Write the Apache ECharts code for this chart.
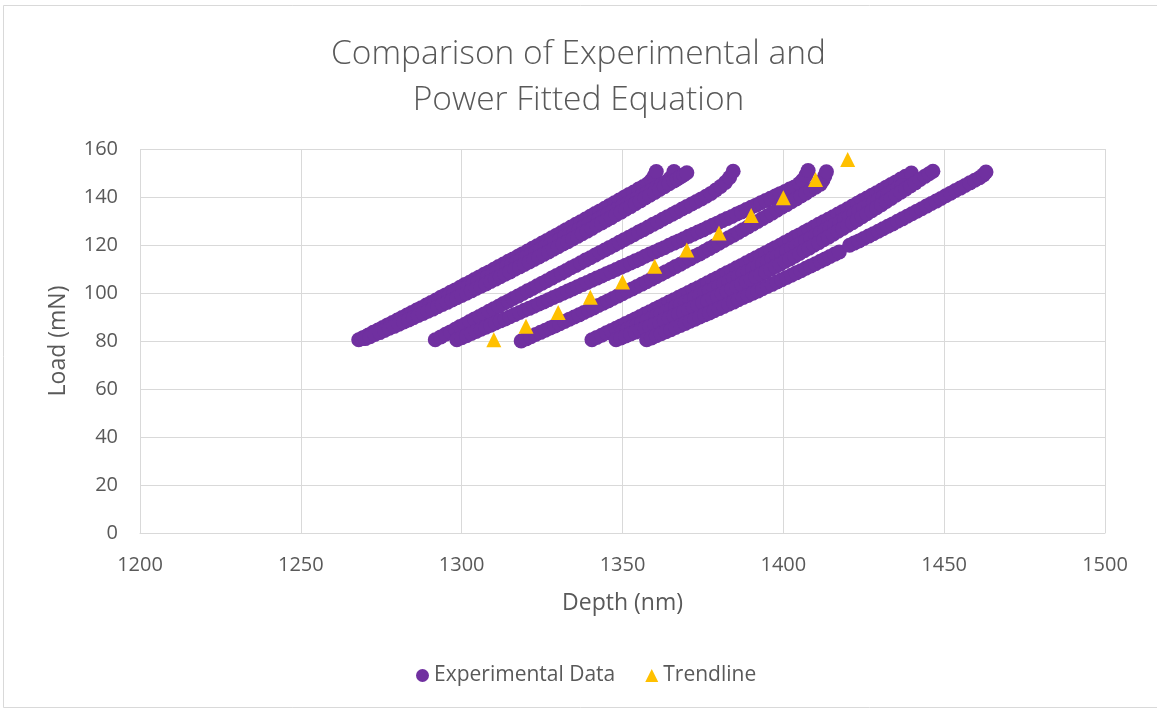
<!DOCTYPE html>
<html>
<head>
<meta charset="utf-8">
<script src="https://cdn.jsdelivr.net/npm/echarts@6/dist/echarts.min.js"></script>
<style>
  html, body { margin: 0; padding: 0; background: #ffffff; }
  #chart { width: 1157px; height: 711px; }
</style>
</head>
<body>
<div id="chart"></div>
<script>
// Text
const chartTitle = 'Comparison of Experimental and\nPower Fitted Equation';
const xAxisTitle = 'Depth (nm)';
const yAxisTitle = 'Load (mN)';
const seriesNames = ['Experimental Data', 'Trendline'];

// Axis ranges / ticks
const depthTicks = [1200, 1250, 1300, 1350, 1400, 1450, 1500];
const loadTicks = [0, 20, 40, 60, 80, 100, 120, 140, 160];

// Measured loading runs: [depth (nm), load (mN)]
const run1 = [[1268,80.5],[1269.5,81.5],[1271,82.5],[1272.5,83.6],[1274,84.6],[1275.5,85.6],[1277,86.7],[1278.5,87.7],[1280,88.7],[1281.5,89.8],[1283,90.8],[1284.5,91.9],[1286,92.9],[1287.5,93.9],[1289,95.0],[1290.5,96.0],[1292,97.1],[1293.5,98.2],[1295,99.2],[1296.5,100.3],[1298,101.3],[1299.5,102.4],[1301,103.5],[1302.5,104.5],[1304,105.6],[1305.5,106.7],[1307,107.8],[1308.5,108.8],[1310,109.9],[1311.5,111.0],[1313,112.1],[1314.5,113.2],[1316,114.2],[1317.5,115.3],[1319,116.4],[1320.5,117.5],[1322,118.6],[1323.5,119.7],[1325,120.8],[1326.5,121.9],[1328,123.0],[1329.5,124.1],[1331,125.2],[1332.5,126.4],[1334,127.5],[1335.5,128.6],[1337,129.7],[1338.5,130.8],[1340,132.0],[1341.5,133.1],[1343,134.2],[1344.5,135.3],[1346,136.5],[1347.5,137.6],[1349,138.7],[1350.5,139.9],[1352,141.0],[1353.5,142.1],[1355,143.3],[1356.5,144.4],[1358,145.6],[1359,147.0],[1359.8,148.6],[1360.5,150.6]];
const run2 = [[1269,81.0],[1270.5,82.0],[1272,82.9],[1273.5,83.9],[1275,84.9],[1276.5,85.8],[1278,86.8],[1279.5,87.8],[1281,88.8],[1282.5,89.7],[1284,90.7],[1285.5,91.7],[1287,92.7],[1288.5,93.7],[1290,94.7],[1291.5,95.7],[1293,96.7],[1294.5,97.7],[1296,98.7],[1297.5,99.7],[1299,100.7],[1300.5,101.7],[1302,102.7],[1303.5,103.7],[1305,104.7],[1306.5,105.7],[1308,106.8],[1309.5,107.8],[1311,108.8],[1312.5,109.8],[1314,110.9],[1315.5,111.9],[1317,112.9],[1318.5,114.0],[1320,115.0],[1321.5,116.0],[1323,117.1],[1324.5,118.1],[1326,119.2],[1327.5,120.2],[1329,121.3],[1330.5,122.3],[1332,123.4],[1333.5,124.4],[1335,125.5],[1336.5,126.6],[1338,127.6],[1339.5,128.7],[1341,129.8],[1342.5,130.8],[1344,131.9],[1345.5,133.0],[1347,134.1],[1348.5,135.2],[1350,136.3],[1351.5,137.3],[1353,138.4],[1354.5,139.5],[1356,140.6],[1357.5,141.7],[1359,142.8],[1360.5,143.9],[1362,145.0],[1363.5,146.2],[1364.8,147.8],[1366,150.6]];
const run3 = [[1270,81.0],[1271.5,81.8],[1273,82.7],[1274.5,83.5],[1276,84.4],[1277.5,85.3],[1279,86.1],[1280.5,87.0],[1282,87.9],[1283.5,88.8],[1285,89.7],[1286.5,90.6],[1288,91.5],[1289.5,92.4],[1291,93.3],[1292.5,94.3],[1294,95.2],[1295.5,96.1],[1297,97.1],[1298.5,98.0],[1300,99.0],[1301.5,99.9],[1303,100.9],[1304.5,101.9],[1306,102.8],[1307.5,103.8],[1309,104.8],[1310.5,105.8],[1312,106.8],[1313.5,107.8],[1315,108.8],[1316.5,109.9],[1318,110.9],[1319.5,111.9],[1321,112.9],[1322.5,114.0],[1324,115.0],[1325.5,116.1],[1327,117.1],[1328.5,118.2],[1330,119.3],[1331.5,120.4],[1333,121.4],[1334.5,122.5],[1336,123.6],[1337.5,124.7],[1339,125.8],[1340.5,126.9],[1342,128.1],[1343.5,129.2],[1345,130.3],[1346.5,131.4],[1348,132.6],[1349.5,133.7],[1351,134.9],[1352.5,136.0],[1354,137.2],[1355.5,138.4],[1357,139.6],[1358.5,140.7],[1360,141.9],[1361.5,143.1],[1363,144.3],[1364.5,145.5],[1366,146.7],[1367,147.5],[1368,148.4],[1369,149.2],[1370,150.1]];
const run4 = [[1291.8,80.5],[1293.5,81.7],[1295,82.8],[1296.5,83.8],[1298,84.9],[1299.5,86.0],[1301,87.0],[1302.5,88.1],[1304,89.2],[1305.5,90.2],[1307,91.3],[1308.5,92.4],[1310,93.4],[1311.5,94.5],[1313,95.6],[1314.5,96.6],[1316,97.7],[1317.5,98.7],[1319,99.8],[1320.5,100.9],[1322,101.9],[1323.5,103.0],[1325,104.1],[1326.5,105.1],[1328,106.2],[1329.5,107.3],[1331,108.3],[1332.5,109.4],[1334,110.5],[1335.5,111.5],[1337,112.6],[1338.5,113.7],[1340,114.7],[1341.5,115.8],[1343,116.9],[1344.5,117.9],[1346,119.0],[1347.5,120.0],[1349,121.1],[1350.5,122.2],[1352,123.2],[1353.5,124.3],[1355,125.4],[1356.5,126.4],[1358,127.5],[1359.5,128.6],[1361,129.6],[1362.5,130.7],[1364,131.8],[1365.5,132.8],[1367,133.9],[1368.5,135.0],[1370,136.0],[1371.5,137.1],[1373,138.1],[1374.5,139.2],[1376,140.3],[1377.5,141.5],[1379,142.9],[1380.5,144.4],[1382,146.1],[1383.3,148.1],[1384.4,150.7]];
const run5 = [[1298.5,80.5],[1300,81.4],[1301.5,82.2],[1303,83.1],[1304.5,84.0],[1306,84.9],[1307.5,85.7],[1309,86.6],[1310.5,87.5],[1312,88.4],[1313.5,89.2],[1315,90.1],[1316.5,91.0],[1318,91.9],[1319.5,92.8],[1321,93.6],[1322.5,94.5],[1324,95.4],[1325.5,96.3],[1327,97.2],[1328.5,98.1],[1330,99.0],[1331.5,99.9],[1333,100.8],[1334.5,101.7],[1336,102.6],[1337.5,103.5],[1339,104.4],[1340.5,105.3],[1342,106.2],[1343.5,107.1],[1345,108.0],[1346.5,108.9],[1348,109.8],[1349.5,110.7],[1351,111.6],[1352.5,112.5],[1354,113.4],[1355.5,114.3],[1357,115.3],[1358.5,116.2],[1360,117.1],[1361.5,118.0],[1363,118.9],[1364.5,119.9],[1366,120.8],[1367.5,121.7],[1369,122.6],[1370.5,123.6],[1372,124.5],[1373.5,125.4],[1375,126.3],[1376.5,127.3],[1378,128.2],[1379.5,129.1],[1381,130.1],[1382.5,131.0],[1384,131.9],[1385.5,132.9],[1387,133.8],[1388.5,134.8],[1390,135.7],[1391.5,136.6],[1393,137.6],[1394.5,138.5],[1396,139.5],[1397.5,140.4],[1399,141.4],[1400.5,142.3],[1402,143.3],[1403.5,144.2],[1405,145.6],[1406,147.0],[1407,149.0],[1407.7,151.0]];
const run6 = [[1318.5,80.0],[1320,80.9],[1321.5,81.8],[1323,82.7],[1324.5,83.6],[1326,84.5],[1327.5,85.4],[1329,86.3],[1330.5,87.2],[1332,88.1],[1333.5,89.1],[1335,90.0],[1336.5,90.9],[1338,91.9],[1339.5,92.8],[1341,93.8],[1342.5,94.8],[1344,95.7],[1345.5,96.7],[1347,97.7],[1348.5,98.7],[1350,99.7],[1351.5,100.7],[1353,101.7],[1354.5,102.7],[1356,103.7],[1357.5,104.7],[1359,105.8],[1360.5,106.8],[1362,107.8],[1363.5,108.9],[1365,109.9],[1366.5,111.0],[1368,112.0],[1369.5,113.1],[1371,114.2],[1372.5,115.3],[1374,116.3],[1375.5,117.4],[1377,118.5],[1378.5,119.6],[1380,120.7],[1381.5,121.9],[1383,123.0],[1384.5,124.1],[1386,125.2],[1387.5,126.4],[1389,127.5],[1390.5,128.7],[1392,129.8],[1393.5,131.0],[1395,132.1],[1396.5,133.3],[1398,134.5],[1399.5,135.7],[1401,136.8],[1402.5,138.0],[1404,139.2],[1405.5,140.4],[1407,141.6],[1408.5,142.9],[1410,144.1],[1411.5,145.3],[1412.3,147.0],[1412.9,148.8],[1413.4,150.5]];
const run7 = [[1340.5,80.5],[1342,81.5],[1343.5,82.4],[1345,83.4],[1346.5,84.4],[1348,85.3],[1349.5,86.3],[1351,87.3],[1352.5,88.2],[1354,89.2],[1355.5,90.2],[1357,91.2],[1358.5,92.2],[1360,93.2],[1361.5,94.2],[1363,95.2],[1364.5,96.2],[1366,97.2],[1367.5,98.2],[1369,99.2],[1370.5,100.2],[1372,101.2],[1373.5,102.2],[1375,103.2],[1376.5,104.3],[1378,105.3],[1379.5,106.3],[1381,107.4],[1382.5,108.4],[1384,109.4],[1385.5,110.5],[1387,111.5],[1388.5,112.6],[1390,113.6],[1391.5,114.7],[1393,115.7],[1394.5,116.8],[1396,117.8],[1397.5,118.9],[1399,119.9],[1400.5,121.0],[1402,122.1],[1403.5,123.2],[1405,124.2],[1406.5,125.3],[1408,126.4],[1409.5,127.5],[1411,128.6],[1412.5,129.7],[1414,130.7],[1415.5,131.8],[1417,132.9],[1418.5,134.0],[1420,135.1],[1421.5,136.2],[1423,137.4],[1424.5,138.5],[1426,139.6],[1427.5,140.7],[1429,141.8],[1430.5,142.9],[1432,144.1],[1433.5,145.2],[1435,146.3],[1436.5,147.5],[1438,148.6],[1439.8,150.0]];
const run8 = [[1350,84.0],[1351.5,84.9],[1353,85.8],[1354.5,86.7],[1356,87.6],[1357.5,88.5],[1359,89.5],[1360.5,90.4],[1362,91.3],[1363.5,92.3],[1365,93.2],[1366.5,94.2],[1368,95.1],[1369.5,96.1],[1371,97.0],[1372.5,98.0],[1374,99.0],[1375.5,100.0],[1377,101.0],[1378.5,101.9],[1380,102.9],[1381.5,103.9],[1383,104.9],[1384.5,106.0],[1386,107.0],[1387.5,108.0],[1389,109.0],[1390.5,110.1],[1392,111.1],[1393.5,112.2],[1395,113.2],[1396.5,114.3],[1398,115.3],[1399.5,116.4],[1401,117.5],[1402.5,118.5],[1404,119.6],[1405.5,120.7],[1407,121.8],[1408.5,122.9],[1410,124.0],[1411.5,125.1],[1413,126.2],[1414.5,127.4],[1416,128.5],[1417.5,129.6],[1419,130.8],[1420.5,131.9],[1422,133.0],[1423.5,134.2],[1425,135.4],[1426.5,136.5],[1428,137.7],[1429.5,138.9],[1431,140.0],[1432.5,141.2],[1434,142.4],[1435.5,143.6],[1437,144.8]];
const run9 = [[1348,80.5],[1349.5,81.3],[1351,82.1],[1352.5,82.9],[1354,83.7],[1355.5,84.5],[1357,85.3],[1358.5,86.1],[1360,87.0],[1361.5,87.8],[1363,88.7],[1364.5,89.6],[1366,90.4],[1367.5,91.3],[1369,92.2],[1370.5,93.1],[1372,94.0],[1373.5,94.9],[1375,95.9],[1376.5,96.8],[1378,97.8],[1379.5,98.7],[1381,99.7],[1382.5,100.7],[1384,101.7],[1385.5,102.7],[1387,103.7],[1388.5,104.7],[1390,105.7],[1391.5,106.7],[1393,107.8],[1394.5,108.8],[1396,109.9],[1397.5,111.0],[1399,112.0],[1400.5,113.1],[1402,114.2],[1403.5,115.3],[1405,116.5],[1406.5,117.6],[1408,118.7],[1409.5,119.9],[1411,121.0],[1412.5,122.2],[1414,123.3],[1415.5,124.5],[1417,125.7],[1418.5,126.9],[1420,128.1],[1421.5,129.3],[1423,130.5],[1424.5,131.8],[1426,133.0],[1427.5,134.3],[1429,135.5],[1430.5,136.8],[1432,138.1],[1433.5,139.4],[1435,140.7],[1436.5,142.0],[1438,143.3],[1439.5,144.6],[1441,145.9],[1442.5,147.3],[1444,148.6],[1445.3,149.7],[1446.5,150.7]];
const run10 = [[1357.5,80.5],[1359,81.3],[1360.5,82.2],[1362,83.0],[1363.5,83.9],[1365,84.7],[1366.5,85.6],[1368,86.5],[1369.5,87.3],[1371,88.2],[1372.5,89.1],[1374,90.0],[1375.5,90.9],[1377,91.7],[1378.5,92.6],[1380,93.5],[1381.5,94.4],[1383,95.3],[1384.5,96.2],[1386,97.2],[1387.5,98.1],[1389,99.0],[1390.5,99.9],[1392,100.8],[1393.5,101.8],[1395,102.7],[1396.5,103.6],[1398,104.6],[1399.5,105.5],[1401,106.5],[1402.5,107.4],[1404,108.4],[1405.5,109.3],[1407,110.3],[1408.5,111.3],[1410,112.2],[1411.5,113.2],[1413,114.2],[1414.5,115.2],[1416,116.2],[1417.4,117.1],[1420.6,119.9],[1422,120.8],[1423.5,121.7],[1425,122.7],[1426.5,123.7],[1428,124.7],[1429.5,125.7],[1431,126.8],[1432.5,127.8],[1434,128.8],[1435.5,129.9],[1437,130.9],[1438.5,132.0],[1440,133.0],[1441.5,134.1],[1443,135.1],[1444.5,136.2],[1446,137.3],[1447.5,138.3],[1449,139.4],[1450.5,140.5],[1452,141.6],[1453.5,142.7],[1455,143.7],[1456.5,144.8],[1458,145.9],[1459.5,147.0],[1461,148.0],[1462.2,149.2],[1463,150.4]];

// Power-law fit evaluated at fixed depths
const trendDepth = [1310, 1320, 1330, 1340, 1350, 1360, 1370, 1380, 1390, 1400, 1410, 1420];
const trendLoad = [80.5, 86.1, 91.9, 98.2, 104.6, 111.1, 117.9, 125.0, 132.3, 139.7, 147.3, 155.6];

const runs = [run1, run2, run3, run4, run5, run6, run7, run8, run9, run10];
const experimental = [].concat(...runs);
const trend = trendDepth.map((d, i) => [d, trendLoad[i]]);

const FONT = '"Open Sans", "Noto Sans", sans-serif';
const TEXT = '#595959';
const GRID = '#d9d9d9';

const chart = echarts.init(document.getElementById('chart'), null, { renderer: 'canvas' });

chart.setOption({
  backgroundColor: '#ffffff',
  animation: false,
  graphic: [{
    type: 'rect',
    shape: { x: 3.5, y: 5.5, width: 1200, height: 702 },
    style: { fill: 'none', stroke: GRID, lineWidth: 1 },
    silent: true,
    z: -1
  }],
  title: {
    text: chartTitle,
    left: 'center',
    top: 26,
    textStyle: {
      fontFamily: FONT,
      fontSize: 33.5,
      fontWeight: 300,
      color: TEXT,
      lineHeight: 46
    }
  },
  legend: {
    bottom: 20,
    left: 411,
    itemWidth: 13,
    itemHeight: 13,
    itemGap: 30,
    textStyle: { fontFamily: FONT, fontSize: 21, color: TEXT },
    data: [
      { name: seriesNames[0], icon: 'circle' },
      { name: seriesNames[1], icon: 'triangle' }
    ]
  },
  grid: { left: 140, right: 52, top: 149, bottom: 178, containLabel: false },
  xAxis: {
    type: 'value',
    min: depthTicks[0],
    max: depthTicks[depthTicks.length - 1],
    interval: depthTicks[1] - depthTicks[0],
    name: xAxisTitle,
    nameLocation: 'middle',
    nameGap: 59,
    nameTextStyle: { fontFamily: FONT, fontSize: 23, color: TEXT },
    axisLine: { show: true, lineStyle: { color: GRID, width: 1 } },
    axisTick: { show: false },
    axisLabel: { margin: 22, fontFamily: FONT, fontSize: 20, color: TEXT, formatter: v => String(v) },
    splitLine: { show: true, lineStyle: { color: GRID, width: 1 } }
  },
  yAxis: {
    type: 'value',
    min: loadTicks[0],
    max: loadTicks[loadTicks.length - 1],
    interval: loadTicks[1] - loadTicks[0],
    name: yAxisTitle,
    nameLocation: 'middle',
    nameGap: 70,
    nameRotate: 90,
    nameTextStyle: { fontFamily: FONT, fontSize: 23, color: TEXT },
    axisLine: { show: false },
    axisTick: { show: false },
    axisLabel: { margin: 22, fontFamily: FONT, fontSize: 20, color: TEXT, formatter: v => String(v) },
    splitLine: { show: true, lineStyle: { color: GRID, width: 1 } }
  },
  series: [
    {
      name: seriesNames[0],
      type: 'scatter',
      symbol: 'circle',
      symbolSize: 15,
      itemStyle: { color: '#7030A0', opacity: 1 },
      data: experimental,
      z: 2
    },
    {
      name: seriesNames[1],
      type: 'scatter',
      symbol: 'triangle',
      symbolSize: 15,
      itemStyle: { color: '#FFC000', opacity: 1 },
      data: trend,
      z: 3
    }
  ]
});
</script>
</body>
</html>
